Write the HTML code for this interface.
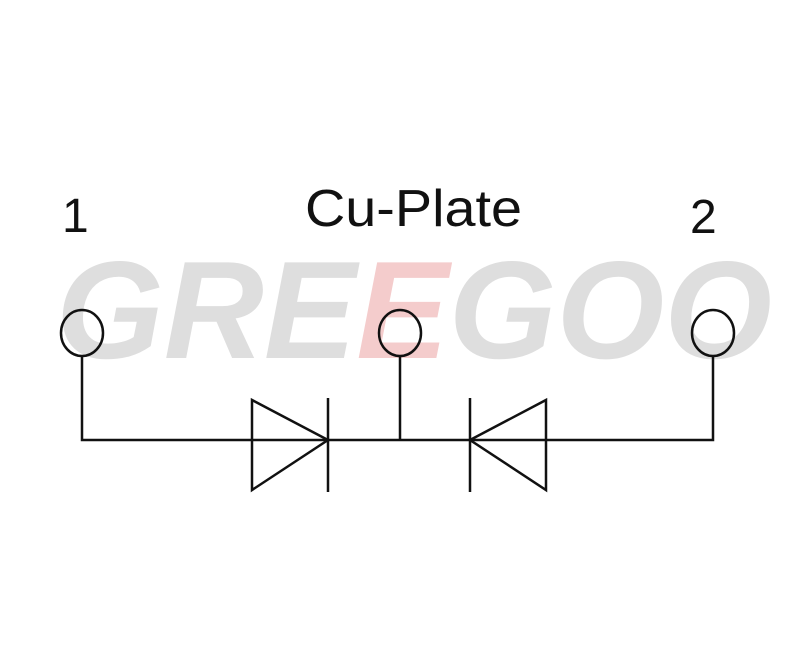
<!DOCTYPE html>
<html><head><style>html,body{margin:0;padding:0;background:#fff;width:800px;height:656px;overflow:hidden}</style></head>
<body>
<svg width="800" height="656" viewBox="0 0 800 656" xmlns="http://www.w3.org/2000/svg">
<text x="56" y="358" font-family="Liberation Sans, sans-serif" font-weight="bold" font-style="italic" font-size="139" fill="#dedede" textLength="716" lengthAdjust="spacingAndGlyphs">GRE<tspan fill="#f4cccc">E</tspan>GOO</text>
<g font-family="Liberation Sans, sans-serif" fill="#111">
<text x="62" y="232" font-size="48">1</text>
<text x="305" y="226" font-size="52" textLength="217" lengthAdjust="spacingAndGlyphs">Cu-Plate</text>
<text x="690" y="233" font-size="48">2</text>
</g>
<g fill="none" stroke="#111" stroke-width="2.5">
<ellipse cx="82" cy="333" rx="21" ry="23"/>
<ellipse cx="400" cy="333" rx="21" ry="23"/>
<ellipse cx="713" cy="333" rx="21" ry="23"/>
<polyline points="82,356 82,440 713,440 713,356"/>
<line x1="400" y1="356" x2="400" y2="440"/>
<polygon points="252,400 252,490 328,440"/>
<line x1="328" y1="398" x2="328" y2="492"/>
<polygon points="546,400 546,490 470,440"/>
<line x1="470" y1="398" x2="470" y2="492"/>
</g>
</svg>
</body></html>
